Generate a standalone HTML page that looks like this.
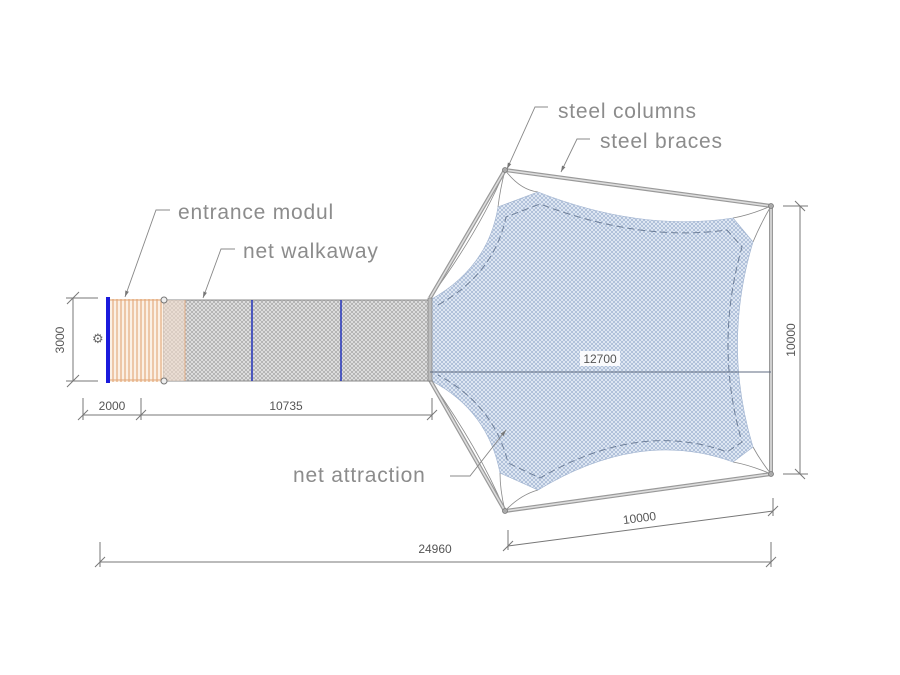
<!DOCTYPE html>
<html><head><meta charset="utf-8"><style>
html,body{margin:0;padding:0;background:#fff}
svg{display:block}
text{font-family:"Liberation Sans","DejaVu Sans",sans-serif;fill:#8c8c8c}
</style></head><body>
<svg width="900" height="675" viewBox="0 0 900 675" xmlns="http://www.w3.org/2000/svg">
<defs>
<pattern id="g" width="4" height="4" patternUnits="userSpaceOnUse">
<rect width="4" height="4" fill="#e2e2e2"/><path d="M0 0L4 4M4 0L0 4" stroke="#9c9c9c" stroke-width="0.6"/>
</pattern>
<pattern id="b" width="4" height="4" patternUnits="userSpaceOnUse">
<rect width="4" height="4" fill="#e4ebf5"/><path d="M0 0L4 4M4 0L0 4" stroke="#94aacb" stroke-width="0.6"/>
</pattern>
<marker id="ar" viewBox="0 0 10 10" refX="10" refY="5" markerWidth="7" markerHeight="7" orient="auto"><path d="M0 2L10 5L0 8z" fill="#777"/></marker>
</defs>

<!-- cables -->
<g stroke="#888" stroke-width="0.8" fill="none">
<path d="M430 298 Q480 230 505 170"/>
<path d="M430 380 Q480 450 505 511"/>
<path d="M505 170 Q520 190 538 192"/>
<path d="M505 170 Q500 190 498 207"/>
<path d="M771 206 Q750 215 733 218"/>
<path d="M771 206 Q760 225 753 242"/>
<path d="M771 474 Q760 460 753 447"/>
<path d="M771 474 Q750 465 733 462"/>
<path d="M505 511 Q520 495 538 490"/>
<path d="M505 511 Q500 490 500 473"/>
</g>

<!-- net -->
<path d="M430 300 Q488 268 498 207 L538 192 Q640 232 733 218 L753 242 Q722 345 753 447 L733 462 Q640 428 538 490 L500 473 Q488 410 430 380 Z" fill="url(#b)" stroke="#9fb2cf" stroke-width="0.6"/>
<path d="M438 305 Q494 274 506 217 L540 204 Q640 242 727 230 L742 247 Q714 345 742 442 L727 452 Q640 420 540 478 L508 463 Q494 405 438 375" fill="none" stroke="#6e7f99" stroke-width="1" stroke-dasharray="7 4"/>

<!-- steel frame -->
<g stroke="#999" stroke-width="4" fill="none" stroke-linejoin="round">
<path d="M430 298 L505 170 L771 206 L771 474 L505 511 L430 380"/>
</g>
<g stroke="#ddd" stroke-width="1.6" fill="none" stroke-linejoin="round">
<path d="M430 298 L505 170 L771 206 L771 474 L505 511 L430 380"/>
</g>
<g fill="#aaa" stroke="#777" stroke-width="0.8">
<circle cx="505" cy="170" r="2.5"/><circle cx="771" cy="206" r="2.5"/><circle cx="771" cy="474" r="2.5"/><circle cx="505" cy="511" r="2.5"/>
</g>

<!-- walkway -->
<rect x="163" y="300" width="268" height="81" fill="url(#g)" stroke="#888" stroke-width="1"/>
<rect x="163" y="300" width="22" height="81" fill="#f1dccb" opacity="0.6"/>
<line x1="185" y1="300" x2="185" y2="381" stroke="#e0a070" stroke-width="0.8"/>
<line x1="252" y1="300" x2="252" y2="381" stroke="#2233bb" stroke-width="1.5"/>
<line x1="341" y1="300" x2="341" y2="381" stroke="#2233bb" stroke-width="1.5"/>
<rect x="428" y="298" width="4" height="83" fill="#bbb" stroke="#777" stroke-width="0.6"/>
<!-- entrance -->
<rect x="110" y="299" width="53" height="83" fill="#fbf0e4"/>
<g stroke="#e2a676" stroke-width="1.1">
<line x1="113" y1="299" x2="113" y2="382"/><line x1="117" y1="299" x2="117" y2="382"/><line x1="121" y1="299" x2="121" y2="382"/><line x1="125" y1="299" x2="125" y2="382"/><line x1="129" y1="299" x2="129" y2="382"/><line x1="133" y1="299" x2="133" y2="382"/><line x1="137" y1="299" x2="137" y2="382"/><line x1="141" y1="299" x2="141" y2="382"/><line x1="145" y1="299" x2="145" y2="382"/><line x1="149" y1="299" x2="149" y2="382"/><line x1="153" y1="299" x2="153" y2="382"/><line x1="157" y1="299" x2="157" y2="382"/><line x1="161" y1="299" x2="161" y2="382"/>
<line x1="110" y1="300" x2="163" y2="300"/><line x1="110" y1="380" x2="163" y2="380"/>
</g>
<rect x="106" y="297" width="4" height="86" fill="#1a1adc"/>
<circle cx="164" cy="300" r="3" fill="#eee" stroke="#777"/>
<circle cx="164" cy="381" r="3" fill="#eee" stroke="#777"/>
<text x="92" y="343" font-size="13" style="fill:#666">⚙</text>

<!-- dimensions -->
<g stroke="#777" stroke-width="1" fill="none">
<line x1="73" y1="298" x2="73" y2="381"/><line x1="66" y1="298" x2="98" y2="298"/><line x1="66" y1="381" x2="98" y2="381"/>
<line x1="67" y1="304" x2="79" y2="292"/><line x1="67" y1="387" x2="79" y2="375"/>
<line x1="83" y1="415" x2="432" y2="415"/>
<line x1="83" y1="398" x2="83" y2="420"/><line x1="141" y1="398" x2="141" y2="420"/><line x1="432" y1="398" x2="432" y2="420"/>
<line x1="78" y1="420" x2="88" y2="410"/><line x1="136" y1="420" x2="146" y2="410"/><line x1="427" y1="420" x2="437" y2="410"/>
<line x1="100" y1="562" x2="771" y2="562"/>
<line x1="100" y1="542" x2="100" y2="567"/><line x1="771" y1="542" x2="771" y2="567"/>
<line x1="95" y1="567" x2="105" y2="557"/><line x1="766" y1="567" x2="776" y2="557"/>
<line x1="508" y1="546" x2="773" y2="511"/>
<line x1="508" y1="530" x2="508" y2="550"/><line x1="773" y1="498" x2="773" y2="516"/>
<line x1="503" y1="551" x2="513" y2="541"/><line x1="768" y1="516" x2="778" y2="506"/>
<line x1="800" y1="206" x2="800" y2="474"/><line x1="783" y1="206" x2="808" y2="206"/><line x1="783" y1="474" x2="808" y2="474"/>
<line x1="795" y1="201" x2="805" y2="211"/><line x1="795" y1="469" x2="805" y2="479"/>
</g>
<line x1="430" y1="372" x2="771" y2="372" stroke="#5f6b80" stroke-width="1"/>
<rect x="580" y="351" width="40" height="15" fill="#fff" opacity="0.9"/>
<text x="600" y="363" font-size="12" text-anchor="middle" style="fill:#555">12700</text>
<text x="64" y="340" font-size="12" text-anchor="middle" transform="rotate(-90 64 340)" style="fill:#555">3000</text>
<text x="112" y="410" font-size="12" text-anchor="middle" style="fill:#555">2000</text>
<text x="286" y="410" font-size="12" text-anchor="middle" style="fill:#555">10735</text>
<text x="435" y="553" font-size="12" text-anchor="middle" style="fill:#555">24960</text>
<text x="640" y="522" font-size="12" text-anchor="middle" transform="rotate(-7.5 640 522)" style="fill:#555">10000</text>
<text x="795" y="340" font-size="12" text-anchor="middle" transform="rotate(-90 795 340)" style="fill:#555">10000</text>

<!-- leaders -->
<g stroke="#888" stroke-width="0.9" fill="none">
<path d="M548 107 L535 107 L507 169" marker-end="url(#ar)"/>
<path d="M590 139 L577 139 L561 172" marker-end="url(#ar)"/>
<path d="M170 210 L156 210 L125 297" marker-end="url(#ar)"/>
<path d="M235 249 L221 249 L203 298" marker-end="url(#ar)"/>
<path d="M450 476 L470 476 L506 430" marker-end="url(#ar)"/>
</g>
<g font-size="21" letter-spacing="0.8">
<text x="558" y="118">steel columns</text>
<text x="600" y="148">steel braces</text>
<text x="178" y="219">entrance modul</text>
<text x="243" y="258">net walkaway</text>
<text x="293" y="482">net attraction</text>
</g>
</svg>
</body></html>
